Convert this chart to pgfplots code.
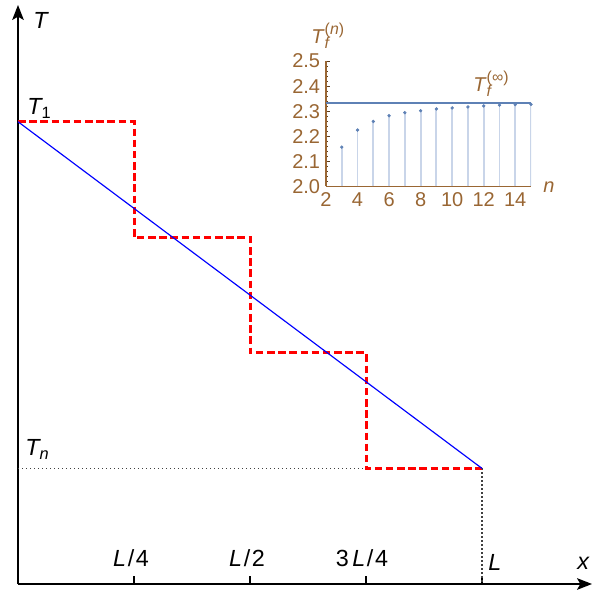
\documentclass[border=0pt]{standalone}
\usepackage{fontspec}
\setmainfont{Liberation Sans}
\usepackage{amsmath}
\usepackage{pgfplots}
\pgfplotsset{compat=1.18}
\usetikzlibrary{arrows.meta}
\definecolor{mBrown}{HTML}{996633}
\definecolor{mBlue}{HTML}{5E81B5}
\definecolor{mStem}{HTML}{C9D5E9}
\newcommand{\mainfont}{\fontsize{14}{16}\selectfont}
\newcommand{\insetfont}{\fontsize{12}{14}\selectfont}
\newcommand{\scr}{\fontsize{9.5}{10}\selectfont}
% T with subscript f and a raised superscript
\newcommand{\Tf}[1]{\textit{T}\rlap{\raisebox{-3pt}{\scr\textit{f}}}\raisebox{5.5pt}{\scr(#1)}}
\begin{document}
\begin{tikzpicture}
% 1 unit = one pixel of the 592x592 picture, origin bottom left
\useasboundingbox (0,0) rectangle (355.2pt,355.2pt);
% main sketch: temperature steps
\begin{axis}[at={(10.8pt,4.8pt)},anchor=south west,scale only axis,
    width=344.4pt,height=347.4pt,
    xmin=0,xmax=1.237,ymin=0,ymax=1.2525,
    axis lines=left,
    axis line style={line width=0.75pt,-{Stealth[length=9pt,width=7pt,inset=2pt]}},
    xtick={0.25,0.5,0.75,1},xticklabels={},ytick=\empty,
    tick align=inside,major tick length=4.8pt,
    tick style={black,line width=0.75pt},clip=false]
\addplot[black!75,line width=0.7pt,dash pattern=on 0.7pt off 1.7pt] coordinates {(0,0.25)(0.75,0.25)};
\addplot[black!75,line width=0.7pt,dash pattern=on 0.7pt off 1.7pt] coordinates {(1,0.25)(1,0)};
\addplot[red,line width=1.8pt,dash pattern=on 4.5pt off 2.2pt] coordinates {
  (0,1)(0.25,1)(0.25,0.75)(0.5,0.75)(0.5,0.5)(0.75,0.5)(0.75,0.25)(1,0.25)};
\addplot[blue,line width=0.7pt] coordinates {(0,1)(1,0.25)};
\end{axis}
% inset: T_f^(n) against n
\begin{axis}[at={(195.6pt,243.3pt)},anchor=south west,scale only axis,
    width=123pt,height=75.3pt,
    xmin=2,xmax=15,ymin=2,ymax=2.5,
    axis lines=left,
    axis line style={mBrown,line width=0.9pt,-},
    every outer x axis line/.append style={-},
    every outer y axis line/.append style={-},
    xtick={2,4,6,8,10,12,14},ytick={2,2.1,2.2,2.3,2.4,2.5},
    minor x tick num=1,minor y tick num=4,
    tick align=inside,major tick length=2.4pt,minor tick length=1.3pt,
    tick style={mBrown!60!black,line width=0.5pt},
    ticklabel style={font=\insetfont,text=mBrown},
    /pgf/number format/assume math mode=true,
    yticklabel style={/pgf/number format/.cd,fixed,fixed zerofill,precision=1}]
\addplot[mStem,line width=1.1pt,ycomb] coordinates {
  (3,2.157)(4,2.225)(5,2.259)(6,2.282)(7,2.294)(8,2.302)(9,2.309)
  (10,2.313)(11,2.317)(12,2.321)(13,2.324)(14,2.326)(15,2.327)};
\addplot[mBlue,only marks,mark=*,mark size=0.8pt] coordinates {
  (3,2.157)(4,2.225)(5,2.259)(6,2.282)(7,2.294)(8,2.302)(9,2.309)
  (10,2.313)(11,2.317)(12,2.321)(13,2.324)(14,2.326)(15,2.327)};
\addplot[mBlue,line width=1.3pt] coordinates {(2,2.3333)(15,2.3333)};
\end{axis}
% labels (positions in pixels times 0.6pt)
\begin{scope}[x=0.6pt,y=0.6pt,every node/.style={inner sep=0,font=\mainfont}]
\node[anchor=base west] at (33,563) {\textit{T}};
\node[anchor=base west] at (577,22) {\textit{x}};
\node[anchor=base west] at (27,477) {$\textit{T}_{\text{1}}$};
\node[anchor=base west] at (25,136) {$\textit{T}_{\textit{n}}$};
\node[anchor=base west] at (488,21) {\textit{L}};
\node[anchor=base] at (131,25) {\textit{L}\kern1pt/\kern1pt4};
\node[anchor=base] at (247,25) {\textit{L}\kern1pt/\kern1pt2};
\node[anchor=base] at (362,25) {3\kern2pt\textit{L}\kern1pt/\kern1pt4};
\end{scope}
\begin{scope}[x=0.6pt,y=0.6pt,every node/.style={inner sep=0,font=\insetfont,text=mBrown}]
\node[anchor=base west] at (311,548) {\Tf{\textit{n}}};
\node[anchor=base west] at (473,500) {\Tf{∞}};
\node[anchor=base west] at (543,399) {\textit{n}};
\end{scope}
\end{tikzpicture}
\end{document}
